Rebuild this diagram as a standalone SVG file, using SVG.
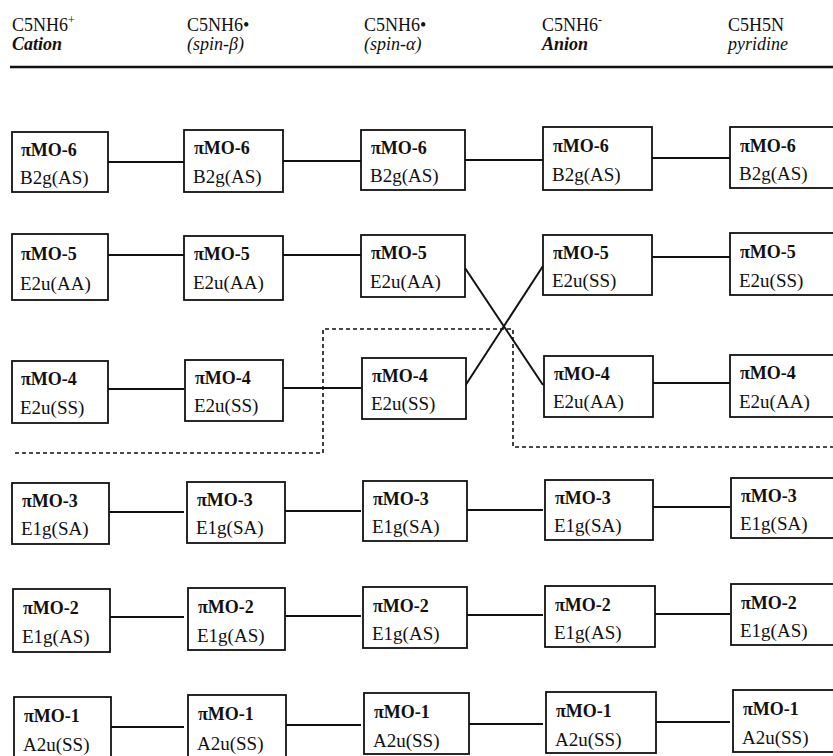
<svg xmlns="http://www.w3.org/2000/svg" width="833" height="756" viewBox="0 0 833 756">
<style>
.hd{font-family:'Liberation Serif','DejaVu Serif',serif;font-size:18px;fill:#111}
.it{font-style:italic}
.b{font-weight:bold}
.box{fill:#fff;stroke:#111;stroke-width:1.8}
.t1{font-family:'Liberation Serif','DejaVu Serif',serif;font-size:18px;font-weight:bold;fill:#111}
.t2{font-family:'Liberation Serif','DejaVu Serif',serif;font-size:19px;fill:#111}
.ln{stroke:#111;stroke-width:2;fill:none}
.dot{stroke:#111;stroke-width:1.6;fill:none;stroke-dasharray:4 3}
</style>
<rect width="833" height="756" fill="#fff"/>
<g id="header">
<text class="hd" x="12" y="31">C5NH6<tspan font-size="12" dy="-7">+</tspan></text>
<text class="hd it b" x="12" y="50">Cation</text>
<text class="hd" x="187" y="31">C5NH6•</text>
<text class="hd it" x="187" y="50">(spin-β)</text>
<text class="hd" x="364" y="31">C5NH6•</text>
<text class="hd it" x="364" y="50">(spin-α)</text>
<text class="hd" x="542" y="31">C5NH6<tspan font-size="12" dy="-7">-</tspan></text>
<text class="hd it b" x="542" y="50">Anion</text>
<text class="hd" x="728" y="31">C5H5N</text>
<text class="hd it" x="728" y="50">pyridine</text>
<line x1="10" y1="67" x2="833" y2="67" stroke="#111" stroke-width="2.5"/>
</g>
<g id="connectors">
<line class="ln" x1="108" y1="162" x2="184" y2="162"/>
<line class="ln" x1="283" y1="161" x2="361" y2="161"/>
<line class="ln" x1="465" y1="160" x2="543" y2="160"/>
<line class="ln" x1="652" y1="158" x2="730" y2="158"/>
<line class="ln" x1="108" y1="255" x2="184" y2="255"/>
<line class="ln" x1="283" y1="255" x2="361" y2="255"/>
<line class="ln" x1="652" y1="257" x2="730" y2="257"/>
<line class="ln" x1="465" y1="268" x2="543" y2="385"/>
<line class="ln" x1="465" y1="386" x2="543" y2="266"/>
<line class="ln" x1="108" y1="389" x2="184" y2="389"/>
<line class="ln" x1="283" y1="388" x2="361" y2="388"/>
<line class="ln" x1="652" y1="383" x2="730" y2="383"/>
<line class="ln" x1="108" y1="512" x2="184" y2="512"/>
<line class="ln" x1="283" y1="511" x2="361" y2="511"/>
<line class="ln" x1="465" y1="510" x2="543" y2="510"/>
<line class="ln" x1="652" y1="507" x2="730" y2="507"/>
<line class="ln" x1="108" y1="617" x2="184" y2="617"/>
<line class="ln" x1="283" y1="616" x2="361" y2="616"/>
<line class="ln" x1="465" y1="615" x2="543" y2="615"/>
<line class="ln" x1="652" y1="614" x2="730" y2="614"/>
<line class="ln" x1="108" y1="727" x2="184" y2="727"/>
<line class="ln" x1="283" y1="725" x2="361" y2="725"/>
<line class="ln" x1="465" y1="724" x2="543" y2="724"/>
<line class="ln" x1="652" y1="722" x2="730" y2="722"/>
<path class="dot" d="M15 453 H323 V329 H513 V447 H833"/>
</g>
<g id="c1-mo6"><rect class="box" x="12" y="132" width="96" height="60"/><text class="t1" x="21" y="156">πMO-6</text><text class="t2" x="20" y="184">B2g(AS)</text></g>
<g id="c2-mo6"><rect class="box" x="184" y="130" width="99" height="62"/><text class="t1" x="194" y="154">πMO-6</text><text class="t2" x="193" y="183">B2g(AS)</text></g>
<g id="c3-mo6"><rect class="box" x="361" y="130" width="104" height="60"/><text class="t1" x="371" y="154">πMO-6</text><text class="t2" x="370" y="182">B2g(AS)</text></g>
<g id="c4-mo6"><rect class="box" x="543" y="127" width="109" height="63"/><text class="t1" x="553" y="152">πMO-6</text><text class="t2" x="552" y="181">B2g(AS)</text></g>
<g id="c5-mo6"><rect class="box" x="730" y="127" width="115" height="61"/><text class="t1" x="740" y="152">πMO-6</text><text class="t2" x="739" y="180">B2g(AS)</text></g>

<g id="c1-mo5"><rect class="box" x="12" y="234" width="96" height="66"/><text class="t1" x="21" y="260">πMO-5</text><text class="t2" x="20" y="290">E2u(AA)</text></g>
<g id="c2-mo5"><rect class="box" x="184" y="236" width="99" height="64"/><text class="t1" x="194" y="260">πMO-5</text><text class="t2" x="193" y="289">E2u(AA)</text></g>
<g id="c3-mo5"><rect class="box" x="361" y="235" width="104" height="62"/><text class="t1" x="371" y="259">πMO-5</text><text class="t2" x="370" y="288">E2u(AA)</text></g>
<g id="c4-mo5"><rect class="box" x="543" y="235" width="109" height="60"/><text class="t1" x="553" y="259">πMO-5</text><text class="t2" x="552" y="287">E2u(SS)</text></g>
<g id="c5-mo5"><rect class="box" x="730" y="233" width="115" height="62"/><text class="t1" x="740" y="258">πMO-5</text><text class="t2" x="739" y="287">E2u(SS)</text></g>

<g id="c1-mo4"><rect class="box" x="12" y="361" width="96" height="62"/><text class="t1" x="21" y="385">πMO-4</text><text class="t2" x="20" y="414">E2u(SS)</text></g>
<g id="c2-mo4"><rect class="box" x="185" y="360" width="98" height="61"/><text class="t1" x="195" y="384">πMO-4</text><text class="t2" x="194" y="412">E2u(SS)</text></g>
<g id="c3-mo4"><rect class="box" x="362" y="358" width="104" height="61"/><text class="t1" x="372" y="382">πMO-4</text><text class="t2" x="371" y="410">E2u(SS)</text></g>
<g id="c4-mo4"><rect class="box" x="544" y="356" width="109" height="61"/><text class="t1" x="554" y="380">πMO-4</text><text class="t2" x="553" y="408">E2u(AA)</text></g>
<g id="c5-mo4"><rect class="box" x="730" y="355" width="115" height="62"/><text class="t1" x="740" y="379">πMO-4</text><text class="t2" x="739" y="408">E2u(AA)</text></g>

<g id="c1-mo3"><rect class="box" x="12" y="483" width="97" height="61"/><text class="t1" x="22" y="507">πMO-3</text><text class="t2" x="21" y="535">E1g(SA)</text></g>
<g id="c2-mo3"><rect class="box" x="187" y="482" width="98" height="61"/><text class="t1" x="197" y="506">πMO-3</text><text class="t2" x="196" y="534">E1g(SA)</text></g>
<g id="c3-mo3"><rect class="box" x="363" y="481" width="104" height="60"/><text class="t1" x="373" y="505">πMO-3</text><text class="t2" x="372" y="533">E1g(SA)</text></g>
<g id="c4-mo3"><rect class="box" x="545" y="480" width="108" height="60"/><text class="t1" x="555" y="504">πMO-3</text><text class="t2" x="554" y="532">E1g(SA)</text></g>
<g id="c5-mo3"><rect class="box" x="731" y="478" width="115" height="60"/><text class="t1" x="741" y="502">πMO-3</text><text class="t2" x="740" y="530">E1g(SA)</text></g>

<g id="c1-mo2"><rect class="box" x="13" y="589" width="97" height="63"/><text class="t1" x="23" y="614">πMO-2</text><text class="t2" x="22" y="643">E1g(AS)</text></g>
<g id="c2-mo2"><rect class="box" x="188" y="588" width="97" height="62"/><text class="t1" x="198" y="613">πMO-2</text><text class="t2" x="197" y="642">E1g(AS)</text></g>
<g id="c3-mo2"><rect class="box" x="363" y="587" width="104" height="61"/><text class="t1" x="373" y="612">πMO-2</text><text class="t2" x="372" y="640">E1g(AS)</text></g>
<g id="c4-mo2"><rect class="box" x="545" y="586" width="110" height="61"/><text class="t1" x="555" y="611">πMO-2</text><text class="t2" x="554" y="639">E1g(AS)</text></g>
<g id="c5-mo2"><rect class="box" x="731" y="584" width="115" height="61"/><text class="t1" x="741" y="609">πMO-2</text><text class="t2" x="740" y="637">E1g(AS)</text></g>

<g id="c1-mo1"><rect class="box" x="14" y="697" width="97" height="62"/><text class="t1" x="24" y="722">πMO-1</text><text class="t2" x="23" y="751">A2u(SS)</text></g>
<g id="c2-mo1"><rect class="box" x="188" y="695" width="98" height="62"/><text class="t1" x="198" y="720">πMO-1</text><text class="t2" x="197" y="750">A2u(SS)</text></g>
<g id="c3-mo1"><rect class="box" x="364" y="693" width="105" height="61"/><text class="t1" x="374" y="718">πMO-1</text><text class="t2" x="373" y="747">A2u(SS)</text></g>
<g id="c4-mo1"><rect class="box" x="546" y="692" width="110" height="61"/><text class="t1" x="556" y="717">πMO-1</text><text class="t2" x="555" y="746">A2u(SS)</text></g>
<g id="c5-mo1"><rect class="box" x="733" y="690" width="115" height="62"/><text class="t1" x="743" y="715">πMO-1</text><text class="t2" x="742" y="744">A2u(SS)</text></g>
</svg>
